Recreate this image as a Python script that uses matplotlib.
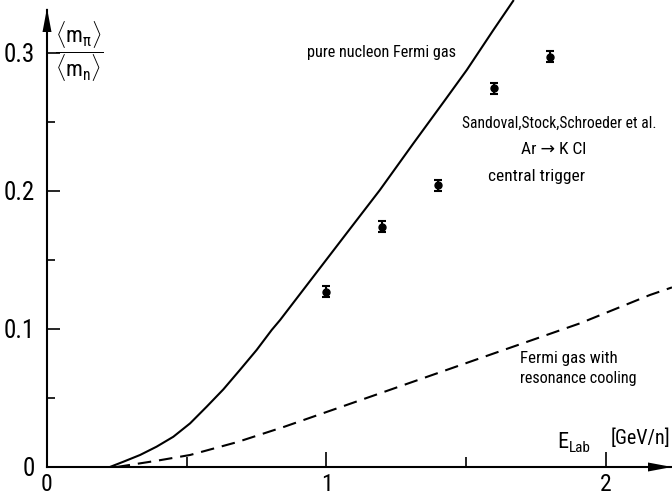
import matplotlib
matplotlib.use("Agg")
import matplotlib.pyplot as plt
from matplotlib import font_manager as fm

# ---------------- data ----------------
# pure nucleon Fermi gas (solid)
fermi_x = [0.225, 0.273, 0.333, 0.392, 0.452, 0.512, 0.571, 0.631, 0.690, 0.750,
           0.804, 0.834, 0.953, 1.072, 1.191, 1.311, 1.424, 1.502, 1.597, 1.670]
fermi_y = [0.000, 0.0038, 0.0087, 0.0147, 0.0219, 0.0316, 0.0436, 0.0562, 0.0702, 0.0847,
           0.0992, 0.1064, 0.1378, 0.1692, 0.2005, 0.2343, 0.2656, 0.2874, 0.3163, 0.338]
# Fermi gas with resonance cooling (dashed)
cool_x = [0.249, 0.392, 0.512, 0.680, 0.850, 1.191, 1.549, 1.907, 2.157, 2.236]
cool_y = [0.000, 0.0045, 0.0087, 0.0180, 0.0292, 0.0533, 0.0787, 0.1040, 0.1245, 0.1300]
# Sandoval, Stock, Schroeder et al. data
data_x = [1.0, 1.2, 1.4, 1.6, 1.8]
data_y = [0.127, 0.174, 0.204, 0.274, 0.297]
data_err = [0.004, 0.004, 0.004, 0.004, 0.004]

xticks = [0, 1, 2]
xticklabels = ["0", "1", "2"]
xminor = [0.5, 1.5]
yticks = [0, 0.1, 0.2, 0.3]
yticklabels = ["0", "0.1", "0.2", "0.3"]
yminor = [0.05, 0.15, 0.25]

# ---------------- fonts ----------------
names = {f.name for f in fm.fontManager.ttflist}
main_font = "Liberation Sans"
for cand in ["Liberation Sans Narrow", "Roboto Condensed", "Open Sans Condensed",
             "Noto Sans Condensed", "DejaVu Sans Condensed"]:
    if cand in names:
        main_font = cand
        break
plt.rcParams["font.family"] = [main_font, "DejaVu Sans"]
plt.rcParams["mathtext.fontset"] = "custom"
plt.rcParams["mathtext.rm"] = main_font
plt.rcParams["mathtext.it"] = main_font
plt.rcParams["mathtext.sf"] = main_font

W, H = 672, 495
X0, Y0 = 47, 467          # pixel position of the origin
SX, SY = 279.5, 1381.5    # pixels per data unit

fig = plt.figure(figsize=(W / 100, H / 100), dpi=100)
ax = fig.add_axes([X0 / W, (H - Y0) / H, (W - X0) / W, Y0 / H])
ax.set_xlim(0, (W - X0) / SX)
ax.set_ylim(0, Y0 / SY)

def px(xp, yp):
    return xp / W, 1 - yp / H

lw = 1.5
ax.plot(fermi_x, fermi_y, color="black", lw=lw, solid_capstyle="butt")
ax.plot(cool_x, cool_y, color="black", lw=lw, linestyle=(0, (6.5, 3.8)))
ax.errorbar(data_x, data_y, yerr=data_err, fmt="o", color="black", ms=5,
            elinewidth=1.5, capsize=3, capthick=1.5)

# axes styling
for s in ["top", "right"]:
    ax.spines[s].set_visible(False)
for s in ["left", "bottom"]:
    ax.spines[s].set_linewidth(1.5)
ax.spines["left"].set_bounds(0, (Y0 - 10) / SY)

ax.set_xticks(xticks)
ax.set_xticklabels(xticklabels)
ax.set_xticks(xminor, minor=True)
ax.set_yticks(yticks)
ax.set_yticklabels(yticklabels)
ax.set_yticks(yminor, minor=True)
ax.tick_params(axis="x", which="major", direction="in", length=11, width=1.2,
               labelsize=17, pad=4)
ax.tick_params(axis="x", which="minor", direction="in", length=7, width=1.2)
ax.tick_params(axis="y", which="major", direction="in", length=9.5, width=1.2,
               labelsize=18, pad=9)
ax.tick_params(axis="y", which="minor", direction="in", length=6, width=1.2)

# arrow heads (axes fraction coordinates)
aw, ah = W - X0, Y0
ax.fill([1.0, (648 - X0) / aw, (648 - X0) / aw], [0, 4.5 / ah, -4.5 / ah],
        color="black", transform=ax.transAxes, clip_on=False, lw=0)
ax.fill([0, -4.5 / aw, 4.5 / aw], [(Y0 - 8) / ah, (Y0 - 32) / ah, (Y0 - 32) / ah],
        color="black", transform=ax.transAxes, clip_on=False, lw=0)

# labels
fig.text(*px(79, 52), r"$\dfrac{\langle \mathrm{m}_{\pi} \rangle}{\langle \mathrm{m}_{\mathrm{n}} \rangle}$",
         ha="center", va="center", fontsize=16)
fig.text(*px(557, 448), "E", ha="left", va="baseline", fontsize=16)
fig.text(*px(569, 452), "Lab", ha="left", va="baseline", fontsize=11)

fs = 12.5
texts = [
    # (string, x px, y px, ha, va, target width px)
    ("[GeV/n]", 611, 444, "left", "baseline", 60),
    ("pure nucleon Fermi gas", 307, 52, "left", "center", 150),
    ("Sandoval,Stock,Schroeder et al.", 559, 123, "center", "center", 195),
    ("central trigger", 537, 176, "center", "center", 97),
    ("Fermi gas with", 520, 358, "left", "center", 98),
    ("resonance cooling", 520, 378, "left", "center", 117),
]
renderer = fig.canvas.get_renderer()
made = []
for s, x, y, ha, va, tw in texts:
    t = fig.text(*px(x, y), s, ha=ha, va=va, fontsize=fs)
    w = t.get_window_extent(renderer).width
    t.set_fontsize(fs * tw / w)
    made.append(t)
ar = fig.text(*px(554, 150), "Ar \u2192 K Cl", ha="center", va="center",
              fontsize=made[3].get_fontsize())

fig.savefig("out.png", dpi=100)
